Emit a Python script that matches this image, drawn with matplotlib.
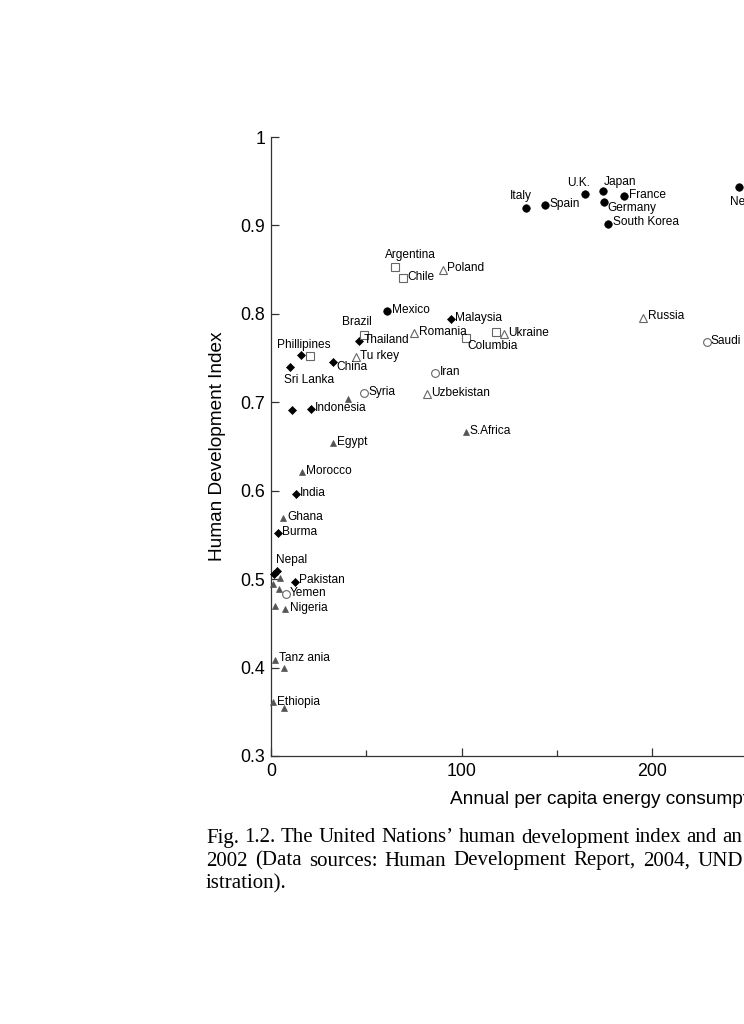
import matplotlib
matplotlib.use("Agg")
import matplotlib.pyplot as plt
from matplotlib.ticker import MultipleLocator

plt.rcParams['font.family'] = ['Liberation Sans', 'DejaVu Sans']

# ---------------- data (energy GJ/person, HDI) ----------------
# filled black circles
oecd_names = ["Italy", "Spain", "U.K.", "Japan", "France", "Germany", "South Korea", "Mexico", "Netherlands"]
oecd_x = [133.9, 143.8, 164.8, 174.1, 185.5, 174.6, 177.1, 61.1, 245.7]
oecd_y = [0.920, 0.923, 0.936, 0.939, 0.933, 0.926, 0.902, 0.803, 0.943]

# black diamonds
asia_names = ["Malaysia", "Thailand", "Phillipines", "Sri Lanka", "China", "Indonesia", "",
              "India", "Burma", "Nepal", "", "Pakistan"]
asia_x = [94.3, 46.2, 15.6, 10.0, 32.4, 21.0, 10.8, 13.0, 3.5, 3.3, 1.7, 12.6]
asia_y = [0.794, 0.769, 0.753, 0.740, 0.745, 0.692, 0.691, 0.596, 0.552, 0.509, 0.506, 0.497]

# open squares
latam_names = ["Argentina", "Chile", "Brazil", "Columbia", "", ""]
latam_x = [65.1, 69.1, 48.8, 102.4, 117.9, 20.5]
latam_y = [0.853, 0.840, 0.776, 0.773, 0.779, 0.752]

# open triangles
europe_names = ["Poland", "Romania", "Ukraine", "Tu rkey", "Uzbekistan", "Russia"]
europe_x = [90.1, 75.2, 122.3, 44.6, 81.7, 195.1]
europe_y = [0.850, 0.778, 0.777, 0.751, 0.709, 0.795]

# open circles
mideast_names = ["Iran", "Syria", "Yemen", "Saudi"]
mideast_x = [86.3, 49.0, 7.7, 228.7]
mideast_y = [0.733, 0.710, 0.483, 0.768]

# filled grey triangles
africa_names = ["", "S.Africa", "Egypt", "Morocco", "Ghana", "", "", "", "", "Nigeria",
                "Tanz ania", "", "Ethiopia", ""]
africa_x = [40.6, 102.2, 32.4, 16.1, 6.1, 4.7, 1.2, 4.4, 1.9, 7.5, 1.9, 6.7, 0.9, 7.0]
africa_y = [0.704, 0.666, 0.654, 0.621, 0.569, 0.501, 0.494, 0.489, 0.470, 0.466,
            0.408, 0.399, 0.361, 0.354]

x_ticks = [0, 100, 200]
y_ticks = [0.3, 0.4, 0.5, 0.6, 0.7, 0.8, 0.9, 1.0]
y_tick_labels = ["0.3", "0.4", "0.5", "0.6", "0.7", "0.8", "0.9", "1"]

x_label = "Annual per capita energy consumption (GJ)"
y_label = "Human Development Index"

caption_lines = [
    "Fig. 1.2. The United Nations\u2019 human development index and an",
    "2002 (Data sources: Human Development Report, 2004, UND",
    "istration).",
]

# ---------------- layout / style ----------------
W, H = 744, 1024
fig = plt.figure(figsize=(W / 100, H / 100), dpi=100)
ax_left, ax_top, ax_bottom = 271, 137, 756
ax_w = 762  # x range 0..400 extends past the page edge
ax = fig.add_axes([ax_left / W, 1 - ax_bottom / H, ax_w / W, (ax_bottom - ax_top) / H])
ax.set_xlim(0, 400)
ax.set_ylim(0.3, 1.0)

groups = [
    (oecd_names, oecd_x, oecd_y, dict(marker='o', ms=5.4, mfc='black', mec='black', mew=0.5)),
    (asia_names, asia_x, asia_y, dict(marker='D', ms=3.6, mfc='black', mec='black', mew=0.5)),
    (latam_names, latam_x, latam_y, dict(marker='s', ms=5.2, mfc='white', mec='#666666', mew=0.8)),
    (europe_names, europe_x, europe_y, dict(marker='^', ms=6.0, mfc='white', mec='#666666', mew=0.8)),
    (mideast_names, mideast_x, mideast_y, dict(marker='o', ms=5.6, mfc='white', mec='#666666', mew=0.8)),
    (africa_names, africa_x, africa_y, dict(marker='^', ms=5.0, mfc='#555555', mec='#555555', mew=0.5)),
]

# label offsets in pixels: (dx, dy, ha)
default_off = (4.3, 1.3, 'left')
label_off = {
    "Italy": (-5, 12, 'center'),
    "Spain": (4.3, 1, 'left'),
    "U.K.": (-6.5, 10.6, 'center'),
    "Japan": (1.3, 9.3, 'left'),
    "Germany": (3.6, -5.7, 'left'),
    "Netherlands": (-9, -14.7, 'left'),
    "Argentina": (15, 11.7, 'center'),
    "Brazil": (-7, 13.3, 'center'),
    "Columbia": (1.7, -8.7, 'left'),
    "Phillipines": (3.3, 10.3, 'center'),
    "China": (3.3, -4.4, 'left'),
    "Sri Lanka": (19.5, -12.6, 'center'),
    "Nepal": (-1.3, 10.7, 'left'),
    "Tanz ania": (4.3, 2.4, 'left'),
    "Ethiopia": (4.6, 0.5, 'left'),
    "Russia": (5.6, 2.3, 'left'),
}

for names, xs, ys, st in groups:
    ax.plot(xs, ys, linestyle='none', zorder=3, clip_on=False, **st)
    for n, x, y in zip(names, xs, ys):
        if not n:
            continue
        dx, dy, ha = label_off.get(n, default_off)
        ax.annotate(n, (x, y), xytext=(dx, dy), textcoords='offset pixels',
                    ha=ha, va='center', fontsize=8.6, color='black', zorder=4)

for s in ['top', 'right']:
    ax.spines[s].set_visible(False)
for s in ['left', 'bottom']:
    ax.spines[s].set_color('#333333')
    ax.spines[s].set_linewidth(0.9)

ax.set_xticks(x_ticks)
ax.set_xticks([50, 150, 250], minor=True)
ax.set_yticks(y_ticks)
ax.set_yticklabels(y_tick_labels)
ax.tick_params(axis='both', which='major', direction='in', length=6, width=0.9,
               color='#333333', labelsize=12.8)
ax.tick_params(axis='x', which='minor', direction='in', length=4, width=0.9, color='#333333')
ax.tick_params(axis='x', which='major', pad=5)
ax.tick_params(axis='y', which='major', pad=4)

ax.set_xlabel(x_label, fontsize=13.7)
ax.xaxis.set_label_coords((450 - ax_left) / ax_w, -(800 - ax_bottom) / (ax_bottom - ax_top))
ax.xaxis.label.set_ha('left')
ax.xaxis.label.set_va('center')
ax.set_ylabel(y_label, fontsize=13.7)
ax.yaxis.set_label_coords((218 - ax_left) / ax_w, (ax_bottom - 446) / (ax_bottom - ax_top))
ax.yaxis.label.set_va('center')

# caption: justified lines (word gaps stretched so the line reaches the right edge)
cap_x0 = 206
line_y = [838, 861, 884]
line_right = [742, 743, None]
cap_size = 15
renderer = fig.canvas.get_renderer()
for line, ly, right in zip(caption_lines, line_y, line_right):
    words = line.split(" ")
    texts = [fig.text(cap_x0 / W, 1 - ly / H, w, family='Liberation Serif', fontsize=cap_size,
                      ha='left', va='center', color='black') for w in words]
    widths = [t.get_window_extent(renderer).width for t in texts]
    if right is None or len(words) == 1:
        space = texts[0].get_fontsize() * 0.25 * 100 / 72
    else:
        space = (right - cap_x0 - sum(widths)) / (len(words) - 1)
    x = cap_x0
    for t, w in zip(texts, widths):
        t.set_x(x / W)
        x += w + space

fig.savefig("out.png", dpi=100)
